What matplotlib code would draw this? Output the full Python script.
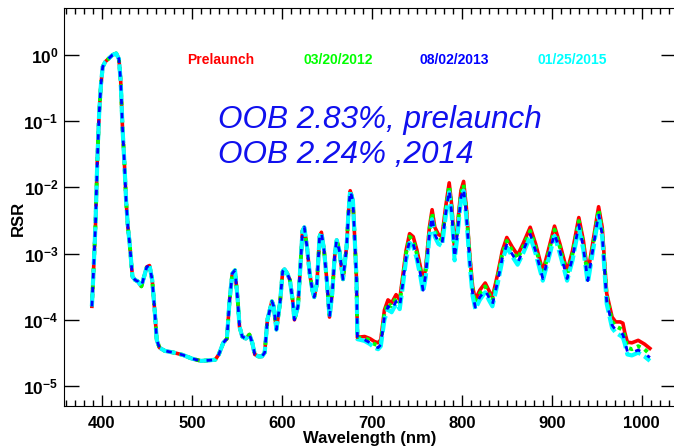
"""
RSR of the band, prelaunch vs. on-orbit dates (log scale)
"""
import numpy as np
import matplotlib
matplotlib.use("Agg")
import matplotlib.pyplot as plt
from matplotlib.ticker import MultipleLocator, FixedLocator

plt.rcParams['font.family'] = ['Liberation Sans', 'DejaVu Sans']
plt.rcParams['font.weight'] = 'bold'
plt.rcParams['mathtext.fontset'] = 'custom'
plt.rcParams['mathtext.bf'] = 'Liberation Sans:bold'
plt.rcParams['mathtext.rm'] = 'Liberation Sans:bold'


### Data

# short-wave part, same for all four curves
wl_common = [389, 391, 393, 395, 397, 399, 401, 404, 408, 412, 416, 419, 421, 423,
             425, 427, 429, 431, 434, 437, 440, 444, 447, 450, 453, 456, 459, 461,
             464, 470, 480, 490, 500, 510, 520, 526, 530, 535, 539, 542, 545, 548,
             551, 553, 556, 560, 564, 567, 570, 574, 578, 581, 584, 589, 591, 594,
             598, 601, 603, 606, 609, 612, 614, 618, 620, 623, 625, 628, 631, 634,
             636, 639, 642, 644, 647, 650, 653, 656, 659, 661, 664, 668, 672, 674,
             676, 679, 681, 683]
rsr_common = [1.6e-4, 6.3e-4, 2.8e-3, 2.5e-2, 0.126, 0.35, 0.66, 0.79, 0.89, 1.0, 1.05,
              0.87, 0.40, 0.079, 0.025, 6.3e-3, 2.5e-3, 1.4e-3, 4.5e-4, 4.0e-4, 3.8e-4,
              3.2e-4, 4.5e-4, 6.3e-4, 6.6e-4, 4.0e-4, 1.26e-4, 5.0e-5, 3.8e-5, 3.4e-5,
              3.2e-5, 2.95e-5, 2.6e-5, 2.4e-5, 2.45e-5, 2.5e-5, 3.0e-5, 4.5e-5, 5.2e-5,
              2.0e-4, 5.0e-4, 5.6e-4, 2.0e-4, 7.9e-5, 5.6e-5, 5.2e-5, 6.0e-5, 4.6e-5,
              3.0e-5, 2.8e-5, 2.8e-5, 3.2e-5, 1.0e-4, 1.9e-4, 1.6e-4, 7.1e-5, 1.8e-4,
              5.4e-4, 5.8e-4, 5.0e-4, 4.0e-4, 2.0e-4, 1.0e-4, 1.6e-4, 4.5e-4, 2.2e-3,
              2.5e-3, 1.26e-3, 5.0e-4, 2.8e-4, 2.2e-4, 3.5e-4, 1.8e-3, 2.1e-3, 1.1e-3,
              4.0e-4, 1.1e-4, 2.5e-4, 1.0e-3, 1.6e-3, 1.1e-3, 4.1e-4, 1.26e-3, 4.0e-3,
              8.9e-3, 6.3e-3, 1.7e-3, 4.1e-4]

# long-wave part, where the dates separate
wl_long = [684, 687, 692, 698, 703, 707, 710, 714, 718, 722, 727, 731, 734, 738, 742,
           746, 750, 754, 757, 760, 764, 767, 770, 774, 778, 782, 786, 789, 792, 795,
           799, 802, 805, 809, 812, 815, 820, 826, 830, 834, 840, 845, 850, 856, 862,
           868, 876, 882, 890, 896, 903, 909, 917, 923, 930, 935, 940, 946, 952, 956,
           961, 967, 971, 976, 979, 981, 984, 989, 996, 1003, 1009]
rsr_prelaunch = [5.4e-5, 5.5e-5, 5.6e-5, 5.2e-5, 4.7e-5, 4.5e-5, 5.0e-5, 1.4e-4, 2.0e-4,
                 1.8e-4, 2.4e-4, 2.0e-4, 4.1e-4, 1.1e-3, 2.0e-3, 1.8e-3, 1.15e-3, 6.3e-4,
                 3.6e-4, 6.3e-4, 2.5e-3, 4.6e-3, 2.5e-3, 1.95e-3, 1.8e-3, 5.0e-3, 1.17e-2,
                 5.0e-3, 1.1e-3, 2.5e-3, 8.9e-3, 1.23e-2, 5.0e-3, 8.9e-4, 3.2e-4, 2.0e-4,
                 2.8e-4, 3.6e-4, 2.8e-4, 2.2e-4, 5.0e-4, 1.1e-3, 1.75e-3, 1.26e-3, 9.5e-4,
                 1.4e-3, 2.5e-3, 1.4e-3, 5.4e-4, 1.1e-3, 2.6e-3, 1.4e-3, 5.4e-4, 1.1e-3,
                 3.5e-3, 1.6e-3, 5.0e-4, 1.6e-3, 5.1e-3, 2.5e-3, 2.5e-4, 1.1e-4, 9.3e-5,
                 9.3e-5, 8.9e-5, 6.5e-5, 4.6e-5, 4.5e-5, 4.9e-5, 4.3e-5, 3.7e-5]
rsr_2012 = [5.3e-5, 5.3e-5, 5.3e-5, 4.9e-5, 4.3e-5, 4.1e-5, 4.6e-5, 1.25e-4, 1.8e-4,
            1.6e-4, 2.15e-4, 1.8e-4, 3.7e-4, 1.0e-3, 1.8e-3, 1.6e-3, 1.0e-3, 5.6e-4,
            3.2e-4, 5.6e-4, 2.25e-3, 4.1e-3, 2.2e-3, 1.75e-3, 1.6e-3, 4.5e-3, 1.05e-2,
            4.5e-3, 9.8e-4, 2.2e-3, 8.0e-3, 1.1e-2, 4.5e-3, 8.0e-4, 2.85e-4, 1.8e-4,
            2.5e-4, 3.2e-4, 2.5e-4, 1.95e-4, 4.5e-4, 9.8e-4, 1.55e-3, 1.1e-3, 8.3e-4,
            1.25e-3, 2.2e-3, 1.25e-3, 4.7e-4, 9.8e-4, 2.3e-3, 1.25e-3, 4.7e-4, 9.8e-4,
            3.1e-3, 1.4e-3, 4.4e-4, 1.4e-3, 4.6e-3, 2.2e-3, 2.2e-4, 9.5e-5, 8.0e-5,
            7.4e-5, 7.0e-5, 5.6e-5, 3.8e-5, 3.6e-5, 4.0e-5, 3.6e-5, 3.0e-5]
rsr_2013 = [5.2e-5, 5.1e-5, 5.0e-5, 4.5e-5, 4.0e-5, 3.8e-5, 4.2e-5, 1.1e-4, 1.6e-4,
            1.4e-4, 1.9e-4, 1.6e-4, 3.2e-4, 8.6e-4, 1.6e-3, 1.4e-3, 9.0e-4, 4.9e-4,
            2.8e-4, 4.9e-4, 2.0e-3, 3.6e-3, 1.95e-3, 1.5e-3, 1.4e-3, 3.9e-3, 9.1e-3,
            3.9e-3, 8.6e-4, 1.95e-3, 7.0e-3, 9.6e-3, 3.9e-3, 7.0e-4, 2.5e-4, 1.55e-4,
            2.2e-4, 2.8e-4, 2.2e-4, 1.7e-4, 3.9e-4, 8.6e-4, 1.35e-3, 9.8e-4, 7.3e-4,
            1.1e-3, 1.95e-3, 1.1e-3, 4.2e-4, 8.6e-4, 2.0e-3, 1.1e-3, 4.2e-4, 8.6e-4,
            2.7e-3, 1.25e-3, 3.9e-4, 1.25e-3, 4.0e-3, 1.95e-3, 1.9e-4, 8.3e-5, 7.0e-5,
            6.4e-5, 6.0e-5, 4.8e-5, 3.3e-5, 3.2e-5, 3.5e-5, 3.1e-5, 2.7e-5]
rsr_2015 = [5.1e-5, 5.0e-5, 4.8e-5, 4.3e-5, 3.8e-5, 3.6e-5, 4.0e-5, 1.0e-4, 1.45e-4,
            1.3e-4, 1.75e-4, 1.45e-4, 2.9e-4, 7.9e-4, 1.45e-3, 1.3e-3, 8.3e-4, 4.5e-4,
            2.6e-4, 4.5e-4, 1.8e-3, 3.3e-3, 1.8e-3, 1.4e-3, 1.3e-3, 3.6e-3, 8.4e-3,
            3.6e-3, 7.9e-4, 1.8e-3, 6.4e-3, 8.9e-3, 3.6e-3, 6.4e-4, 2.3e-4, 1.45e-4,
            2.0e-4, 2.6e-4, 2.0e-4, 1.6e-4, 3.6e-4, 7.9e-4, 1.25e-3, 9.1e-4, 6.8e-4,
            1.0e-3, 1.8e-3, 1.0e-3, 3.9e-4, 7.9e-4, 1.85e-3, 1.0e-3, 3.9e-4, 7.9e-4,
            2.5e-3, 1.15e-3, 3.6e-4, 1.15e-3, 3.7e-3, 1.8e-3, 1.75e-4, 7.5e-5, 6.4e-5,
            5.8e-5, 5.4e-5, 4.4e-5, 3.0e-5, 2.9e-5, 3.2e-5, 2.8e-5, 2.4e-5]

labels = ['Prelaunch', '03/20/2012', '08/02/2013', '01/25/2015']
colors = ['#ff0000', '#00ff00', '#0000ff', '#00ffff']
oob_lines = ['OOB 2.83%, prelaunch', 'OOB 2.24% ,2014']

wl = np.array(wl_common + wl_long)
rsr_pre, rsr_12, rsr_13, rsr_15 = [np.array(rsr_common + s) for s in
                                   (rsr_prelaunch, rsr_2012, rsr_2013, rsr_2015)]


### plot
fig = plt.figure(figsize=(6.74, 4.46), dpi=100)
ax = fig.add_axes([64/674, 40/446, 612/674, 398/446])

# draw order: red, green, cyan, blue on top
ax.plot(wl, rsr_pre, color=colors[0], ls='-', lw=2.6)
ax.plot(wl, rsr_12, color=colors[1], ls=(0, (1, 1.2)), lw=2.8)
ax.plot(wl, rsr_15, color=colors[3], ls=(0, (4, 1)), lw=3.0)
ax.plot(wl, rsr_13, color=colors[2], ls=(0, (2, 3)), lw=2.0)

ax.set_yscale('log')
ax.set_xlim(358, 1038)
ax.set_ylim(5e-6, 5.1)

ax.xaxis.set_major_locator(MultipleLocator(100))
ax.xaxis.set_minor_locator(MultipleLocator(10))
ax.yaxis.set_major_locator(FixedLocator([1e-5, 1e-4, 1e-3, 1e-2, 1e-1, 1e0]))
ax.yaxis.set_minor_locator(FixedLocator([]))
ax.set_yticklabels([r'$\mathbf{10^{-5}}$', r'$\mathbf{10^{-4}}$', r'$\mathbf{10^{-3}}$',
                    r'$\mathbf{10^{-2}}$', r'$\mathbf{10^{-1}}$', r'$\mathbf{10^{0}}$'])

ax.tick_params(axis='x', which='major', direction='in', top=True, length=8, width=1,
               labelsize=12, pad=7)
ax.tick_params(axis='x', which='minor', direction='in', top=True, length=4, width=1)
ax.tick_params(axis='y', which='major', direction='in', right=True, length=11, width=1,
               labelsize=12.5, pad=4)
for lbl in ax.get_xticklabels():
    lbl.set_fontweight('bold')

ax.set_xlabel('Wavelength (nm)', fontsize=12, fontweight='bold', labelpad=0)
fig.text(18/674, 1 - 218/446, 'RSR', rotation=90, fontsize=12, fontweight='bold',
         ha='center', va='center')

# date labels
for x0, txt, c in zip([187, 303, 420, 537], labels, colors):
    fig.text(x0/674, 1 - 60/446, txt, color=c, fontsize=10, fontweight='bold',
             va='center', ha='left')

fig.text(218/674, 1 - 128/446, oob_lines[0], color='#1010ee', fontsize=22.7,
         fontstyle='italic', fontweight='normal', va='baseline')
fig.text(218/674, 1 - 163/446, oob_lines[1], color='#1010ee', fontsize=22.7,
         fontstyle='italic', fontweight='normal', va='baseline')

fig.savefig('out.png', dpi=100)
